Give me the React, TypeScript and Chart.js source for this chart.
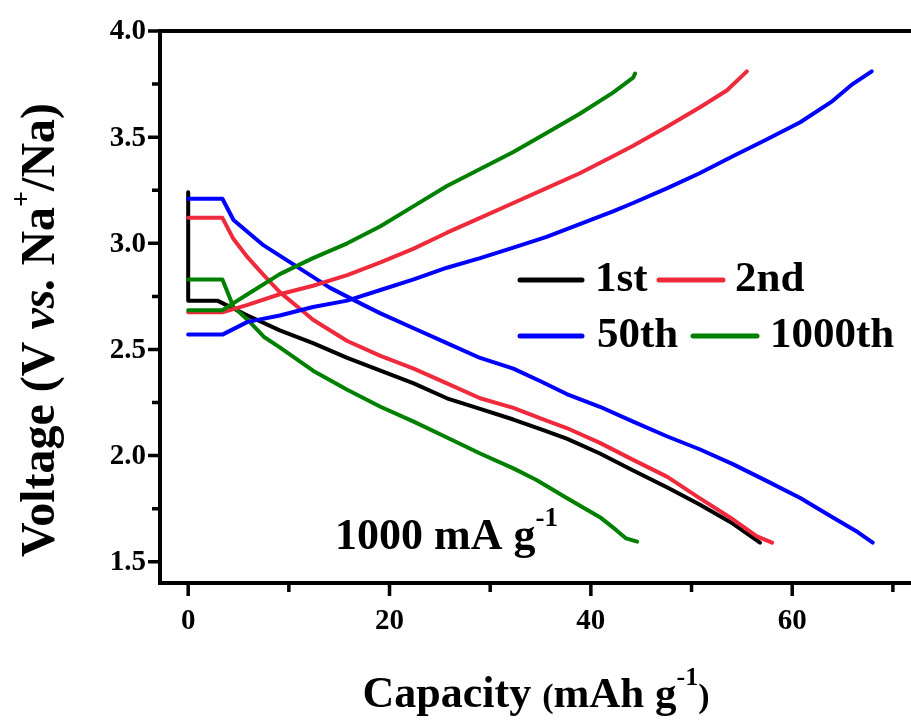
import React, { useEffect, useRef } from 'react';
import { Chart, registerables } from 'chart.js';
Chart.register(...registerables);

// ---- data (capacity in mAh g-1, voltage in V) ----
const cap1stDis = [0, 0, 2.9, 5.9, 9.1, 12.4, 15.8, 19.1, 22.4, 25.7, 29, 32.3, 35, 37.6, 40.9, 44.2, 47.6, 50.8, 54.1, 56.8];
const volt1stDis = [3.24, 2.73, 2.73, 2.66, 2.59, 2.53, 2.46, 2.40, 2.34, 2.27, 2.22, 2.17, 2.125, 2.08, 2.01, 1.93, 1.85, 1.77, 1.68, 1.59];

const cap2ndDis = [0, 3.4, 4.5, 5.8, 7.5, 9.1, 11.4, 12.4, 15.8, 19.1, 22.4, 25.7, 29, 32.3, 35, 37.6, 40.9, 44.2, 47.6, 50.8, 54.1, 56.5, 58];
const volt2ndDis = [3.12, 3.12, 3.02, 2.94, 2.85, 2.77, 2.68, 2.64, 2.54, 2.47, 2.41, 2.34, 2.27, 2.225, 2.175, 2.13, 2.06, 1.98, 1.90, 1.80, 1.70, 1.62, 1.59];
const cap2ndCha = [0, 3.4, 5.9, 9.1, 12.4, 15.8, 19.1, 22.4, 25.7, 29, 32.3, 35.6, 38.9, 42.2, 44.2, 47.6, 50.8, 53.5, 55.5];
const volt2ndCha = [2.675, 2.675, 2.71, 2.76, 2.80, 2.85, 2.91, 2.975, 3.05, 3.12, 3.19, 3.26, 3.33, 3.41, 3.46, 3.55, 3.64, 3.72, 3.81];

const cap50thDis = [0, 3.4, 4.5, 7.5, 10.8, 14.1, 17.4, 19.1, 22.4, 25.7, 29, 32.3, 35, 37.6, 40.9, 44.2, 47.6, 50.8, 54.1, 57.5, 60.8, 64, 66.5, 68];
const volt50thDis = [3.21, 3.21, 3.11, 2.99, 2.89, 2.79, 2.71, 2.67, 2.60, 2.53, 2.46, 2.41, 2.35, 2.29, 2.23, 2.16, 2.09, 2.03, 1.96, 1.88, 1.80, 1.71, 1.64, 1.59];
const cap50thCha = [0, 3.4, 5.9, 9.1, 12.4, 15.8, 19.1, 22.4, 25.7, 29, 32.3, 35.6, 38.9, 42.2, 44.2, 47.6, 50.8, 54.1, 57.5, 60.8, 64, 66, 67.9];
const volt50thCha = [2.57, 2.57, 2.63, 2.66, 2.70, 2.73, 2.78, 2.83, 2.885, 2.93, 2.98, 3.03, 3.09, 3.15, 3.19, 3.26, 3.33, 3.41, 3.49, 3.57, 3.67, 3.75, 3.81];

const cap1000thDis = [0, 3.4, 4.5, 5.9, 7.5, 9.1, 12.4, 15.8, 19.1, 22.4, 25.7, 29, 32.3, 34.6, 37.6, 40.9, 42.5, 43.5, 44.6];
const volt1000thDis = [2.83, 2.83, 2.70, 2.64, 2.56, 2.51, 2.40, 2.31, 2.23, 2.16, 2.085, 2.01, 1.94, 1.885, 1.80, 1.71, 1.65, 1.61, 1.595];
const cap1000thCha = [0, 3.4, 5.9, 9.1, 12.4, 15.8, 19.1, 22.4, 25.7, 29, 32.3, 35.6, 38.9, 42.2, 44.2, 44.4];
const volt1000thCha = [2.685, 2.685, 2.76, 2.855, 2.93, 3.00, 3.08, 3.175, 3.27, 3.35, 3.43, 3.52, 3.61, 3.71, 3.78, 3.80];

const xMajorTicks = [0, 20, 40, 60];
const xMinorTicks = [10, 30, 50, 70];
const yMajorTicks = [1.5, 2.0, 2.5, 3.0, 3.5, 4.0];
const yMinorTicks = [1.75, 2.25, 2.75, 3.25, 3.75];

const seriesLabels = ['1st', '2nd', '50th', '1000th'];
const seriesColors = ['#000000', '#EE2A3C', '#0000FF', '#008000'];

const FONT = '"Liberation Serif", "Times New Roman", serif';

function pts(xs: number[], ys: number[]) {
  return xs.map((x, i) => ({ x, y: ys[i] }));
}

type Seg = { t: string; size: number; italic?: boolean; rise?: number };

function segFont(s: Seg) {
  return `${s.italic ? 'italic ' : ''}bold ${s.size}px ${FONT}`;
}

function richWidth(ctx: CanvasRenderingContext2D, segs: Seg[]) {
  let w = 0;
  for (const s of segs) {
    ctx.font = segFont(s);
    w += ctx.measureText(s.t).width;
  }
  return w;
}

function drawRich(ctx: CanvasRenderingContext2D, segs: Seg[], x: number, y: number, align: 'left' | 'center') {
  let cx = align === 'center' ? x - richWidth(ctx, segs) / 2 : x;
  ctx.textAlign = 'left';
  ctx.textBaseline = 'alphabetic';
  for (const s of segs) {
    ctx.font = segFont(s);
    ctx.fillText(s.t, cx, y - (s.rise || 0));
    cx += ctx.measureText(s.t).width;
  }
}

const decorPlugin = {
  id: 'decor',
  afterDraw(chart: any) {
    const ctx: CanvasRenderingContext2D = chart.ctx;
    const { left, right, top, bottom } = chart.chartArea;
    const xs = chart.scales.x;
    const ys = chart.scales.y;
    ctx.save();
    ctx.fillStyle = '#000';
    ctx.strokeStyle = '#000';
    ctx.lineCap = 'butt';

    // frame: left, bottom, top
    ctx.lineWidth = 4;
    ctx.beginPath();
    ctx.moveTo(left, top - 2);
    ctx.lineTo(left, bottom + 2);
    ctx.moveTo(left - 2, bottom);
    ctx.lineTo(right, bottom);
    ctx.moveTo(left - 2, top);
    ctx.lineTo(right, top);
    ctx.stroke();

    // ticks
    ctx.lineWidth = 3.5;
    ctx.beginPath();
    for (const v of xMajorTicks) {
      const px = xs.getPixelForValue(v);
      ctx.moveTo(px, bottom);
      ctx.lineTo(px, bottom + 13);
    }
    for (const v of xMinorTicks) {
      const px = xs.getPixelForValue(v);
      ctx.moveTo(px, bottom);
      ctx.lineTo(px, bottom + 9);
    }
    for (const v of yMajorTicks) {
      const py = ys.getPixelForValue(v);
      ctx.moveTo(left, py);
      ctx.lineTo(left - 12, py);
    }
    for (const v of yMinorTicks) {
      const py = ys.getPixelForValue(v);
      ctx.moveTo(left, py);
      ctx.lineTo(left - 8, py);
    }
    ctx.stroke();

    // tick labels
    ctx.font = `bold 29px ${FONT}`;
    ctx.textAlign = 'center';
    ctx.textBaseline = 'alphabetic';
    for (const v of xMajorTicks) {
      ctx.fillText(String(v), xs.getPixelForValue(v), bottom + 46);
    }
    ctx.textAlign = 'right';
    ctx.textBaseline = 'middle';
    for (const v of yMajorTicks) {
      ctx.fillText(v.toFixed(1), left - 14, ys.getPixelForValue(v) + 1);
    }

    // x title
    drawRich(
      ctx,
      [
        { t: 'Capacity ', size: 44 },
        { t: '(', size: 34 },
        { t: 'mAh g', size: 43 },
        { t: '-1', size: 26, rise: 22 },
        { t: ')', size: 34 },
      ],
      536,
      707,
      'center'
    );

    // y title (rotated)
    ctx.save();
    ctx.translate(54, 330);
    ctx.rotate(-Math.PI / 2);
    drawRich(
      ctx,
      [
        { t: 'Voltage (V ', size: 48 },
        { t: 'vs.', size: 48, italic: true },
        { t: ' Na', size: 48 },
        { t: '+', size: 28, rise: 24 },
        { t: '/Na)', size: 48 },
      ],
      0,
      0,
      'center'
    );
    ctx.restore();

    // annotation
    drawRich(
      ctx,
      [
        { t: '1000 mA g', size: 44 },
        { t: '-1', size: 27, rise: 23 },
      ],
      335,
      549,
      'left'
    );

    // legend (2 x 2)
    const rows = [
      { y: 280, base: 291, items: [{ i: 0, x0: 520, x1: 582, tx: 595 }, { i: 1, x0: 659, x1: 723, tx: 735 }] },
      { y: 336, base: 347, items: [{ i: 2, x0: 520, x1: 582, tx: 597 }, { i: 3, x0: 693, x1: 757, tx: 770 }] },
    ];
    ctx.lineCap = 'round';
    ctx.lineWidth = 5;
    for (const r of rows) {
      for (const it of r.items) {
        ctx.strokeStyle = seriesColors[it.i];
        ctx.beginPath();
        ctx.moveTo(it.x0, r.y);
        ctx.lineTo(it.x1, r.y);
        ctx.stroke();
        ctx.fillStyle = '#000';
        ctx.font = `bold 43px ${FONT}`;
        ctx.textAlign = 'left';
        ctx.textBaseline = 'alphabetic';
        ctx.fillText(seriesLabels[it.i], it.tx, r.base);
      }
    }
    ctx.restore();
  },
};

export default function App() {
  const ref = useRef<HTMLCanvasElement>(null);
  useEffect(() => {
    if (!ref.current) return;
    const mk = (label: string, color: string, xs: number[], ys: number[]) => ({
      label,
      data: pts(xs, ys),
      borderColor: color,
      backgroundColor: color,
      borderWidth: 4,
      pointRadius: 0,
      showLine: true,
      tension: 0,
      fill: false,
      borderJoinStyle: 'round' as const,
      borderCapStyle: 'round' as const,
    });
    const chart = new Chart(ref.current, {
      type: 'scatter',
      data: {
        datasets: [
          mk(seriesLabels[3], seriesColors[3], cap1000thCha, volt1000thCha),
          mk(seriesLabels[2], seriesColors[2], cap50thCha, volt50thCha),
          mk(seriesLabels[1], seriesColors[1], cap2ndCha, volt2ndCha),
          mk(seriesLabels[3], seriesColors[3], cap1000thDis, volt1000thDis),
          mk(seriesLabels[2], seriesColors[2], cap50thDis, volt50thDis),
          mk(seriesLabels[1], seriesColors[1], cap2ndDis, volt2ndDis),
          mk(seriesLabels[0], seriesColors[0], cap1stDis, volt1stDis),
        ],
      },
      options: {
        responsive: false,
        animation: false,
        devicePixelRatio: 1,
        layout: { padding: { left: 160, right: 0, top: 31, bottom: 137 } },
        plugins: { legend: { display: false }, tooltip: { enabled: false } },
        scales: {
          x: { type: 'linear', min: -2.8, max: 71.8, display: false },
          y: { type: 'linear', min: 1.4, max: 4.0, display: false },
        },
      },
      plugins: [decorPlugin],
    });
    return () => chart.destroy();
  }, []);
  return (
    <div style={{ position: 'fixed', left: 0, top: 0, width: 911, height: 720, background: '#fff' }}>
      <canvas ref={ref} width={911} height={720} style={{ display: 'block' }} />
    </div>
  );
}
